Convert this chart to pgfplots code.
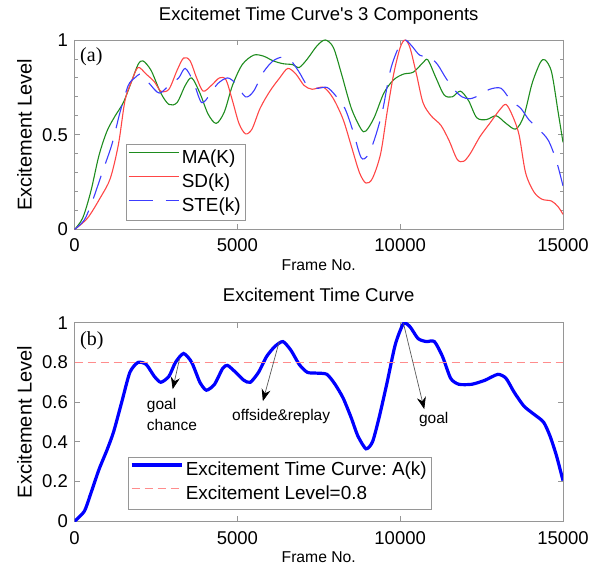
\documentclass[border=0pt]{standalone}
\usepackage{fontspec}
\setmainfont{Liberation Sans}
\newfontfamily\serifa{Liberation Serif}
\usepackage{pgfplots}
\pgfplotsset{compat=1.18}
\usetikzlibrary{arrows.meta}

\definecolor{maG}{RGB}{30,140,30}
\definecolor{sdR}{RGB}{255,70,70}
\definecolor{steB}{RGB}{60,60,255}
\definecolor{axgray}{RGB}{150,150,150}
\definecolor{lvlR}{RGB}{255,140,140}
\newcommand\fs[1]{\fontsize{#1}{#1}\selectfont}
\frenchspacing

\pgfplotsset{myax/.style={
  scale only axis, width=488.5pt, xmin=0, xmax=15000, ymin=0, ymax=1,
  axis line style={draw=axgray, line width=0.9pt},
  tick style={draw=axgray, line width=0.8pt},
  major tick length=5pt, minor tick length=3pt,
  xtick={0,5000,10000,15000},
  scaled x ticks=false, scaled y ticks=false,
  /pgf/number format/1000 sep={},
  /pgf/number format/assume math mode=true,
  tick label style={font=\fs{18.5}},
  xticklabel style={anchor=north, inner sep=0pt, yshift=-9pt},
  yticklabel style={anchor=east, inner sep=0pt, xshift=-6.5pt},
  xlabel={Frame No.},
  xlabel style={font=\fs{15.7}, at={(axis description cs:0.5,0)}, anchor=north, inner sep=0pt, yshift=-30.5pt},
  ylabel={Excitement Level},
  ylabel style={font=\fs{20}, at={(axis description cs:-0.087,0.5)}, anchor=south, inner sep=0pt},
  title style={font=\fs{18.5}, at={(axis description cs:0.5,1)}, anchor=base, inner sep=0pt},
  legend cell align=left,
  legend style={draw=axgray, line width=0.8pt, font=\fs{18.9}, anchor=south west,
     inner sep=2pt, row sep=0pt, nodes={text height=14.5pt, text depth=4.5pt, inner sep=2.5pt}},
  legend image code/.code={\draw[#1] (0pt,6pt) -- (50pt,6pt);},
}}

\begin{document}
\begin{tikzpicture}
\begin{axis}[myax, at={(74.5pt,335.5pt)}, anchor=south west, height=189.5pt,
  ytick={0,0.5,1}, minor y tick num=4,
  title={Excitemet Time Curve\textquotesingle s 3 Components}, title style={yshift=13pt},
  legend style={at={(0.105,0.046)}}]
\addplot[maG, line width=1.1pt, smooth, tension=0.5] table {
0 0
250 0.06
500 0.2
750 0.39
1000 0.52
1250 0.6
1500 0.67
1750 0.78
1950 0.87
2100 0.89
2350 0.84
2650 0.72
2900 0.66
3150 0.67
3400 0.76
3600 0.80
3850 0.72
4100 0.61
4350 0.56
4600 0.62
4850 0.76
5150 0.87
5500 0.92
5800 0.915
6100 0.89
6400 0.875
6700 0.87
6900 0.855
7150 0.90
7450 0.97
7700 1.0
7950 0.96
8200 0.82
8500 0.64
8800 0.53
8950 0.52
9200 0.59
9500 0.72
9800 0.79
10100 0.82
10400 0.83
10700 0.88
10850 0.895
11100 0.80
11350 0.71
11600 0.70
11850 0.73
12100 0.68
12350 0.59
12650 0.58
12950 0.60
13250 0.56
13550 0.53
13800 0.60
14050 0.77
14300 0.88
14450 0.895
14650 0.83
14850 0.62
15000 0.46
};
\addlegendentry{MA(K)}
\addplot[sdR, line width=1.1pt, smooth, tension=0.5] table {
0 0
400 0.06
800 0.17
1100 0.27
1350 0.45
1550 0.68
1750 0.78
1950 0.855
2200 0.82
2450 0.78
2650 0.73
2900 0.74
3150 0.84
3350 0.905
3550 0.89
3750 0.80
3950 0.73
4200 0.76
4450 0.80
4650 0.79
4850 0.68
5050 0.56
5250 0.505
5450 0.53
5700 0.64
6000 0.73
6300 0.80
6550 0.85
6800 0.82
7050 0.76
7300 0.74
7650 0.75
7950 0.69
8250 0.58
8500 0.44
8750 0.30
8950 0.245
9150 0.27
9400 0.40
9600 0.62
9800 0.82
10000 0.96
10150 1.0
10300 0.96
10500 0.82
10700 0.67
10950 0.60
11250 0.55
11500 0.47
11750 0.37
11950 0.36
12150 0.40
12450 0.49
12750 0.56
13050 0.63
13250 0.66
13450 0.60
13650 0.50
13850 0.30
14100 0.20
14350 0.16
14650 0.15
14850 0.12
15000 0.08
};
\addlegendentry{SD(k)}
\addplot[steB, line width=1.1pt, dash pattern=on 24pt off 13pt, smooth, tension=0.5] table {
0 0
300 0.05
550 0.15
850 0.30
1150 0.45
1400 0.62
1650 0.76
1850 0.80
2050 0.82
2300 0.77
2600 0.72
2900 0.76
3200 0.80
3400 0.85
3650 0.78
3900 0.67
4150 0.71
4400 0.77
4700 0.80
4950 0.77
5250 0.70
5500 0.73
5800 0.83
6100 0.89
6400 0.91
6650 0.89
6900 0.83
7150 0.76
7450 0.745
7750 0.75
8000 0.71
8300 0.64
8550 0.52
8800 0.38
9000 0.39
9200 0.47
9450 0.62
9700 0.84
9950 0.96
10150 1.0
10350 0.97
10600 0.92
10900 0.91
11150 0.87
11400 0.80
11650 0.74
11900 0.70
12150 0.69
12450 0.71
12750 0.74
13100 0.745
13400 0.68
13700 0.64
13950 0.58
14250 0.53
14550 0.47
14800 0.36
15000 0.23
};
\addlegendentry{STE(k)}
\node[anchor=north west, inner sep=0pt, font=\serifa\fs{20}] at (axis description cs:0.0113,0.96) {(a)};
\end{axis}

\begin{axis}[myax, at={(74.5pt,43.7pt)}, anchor=south west, height=198.6pt,
  ytick={0,0.2,0.4,0.6,0.8,1},
  xticklabel style={yshift=-1pt},
  title={Excitement Time Curve}, title style={yshift=14.7pt},
  legend style={at={(0.109,0.06)}}]
\addplot[blue, line width=3.2pt, smooth, tension=0.4] table {
0 0
300 0.05
500 0.14
750 0.26
1000 0.36
1200 0.45
1450 0.60
1700 0.75
1950 0.80
2200 0.79
2450 0.73
2650 0.70
2900 0.73
3100 0.80
3350 0.845
3600 0.80
3850 0.70
4050 0.66
4300 0.69
4550 0.77
4700 0.785
4950 0.75
5200 0.71
5400 0.70
5650 0.75
5900 0.83
6150 0.88
6400 0.905
6650 0.86
6900 0.79
7150 0.75
7450 0.746
7750 0.74
8000 0.69
8250 0.62
8500 0.52
8700 0.43
8950 0.365
9150 0.40
9350 0.52
9600 0.70
9850 0.89
10100 0.995
10300 0.98
10550 0.92
10800 0.905
11050 0.905
11300 0.83
11550 0.72
11800 0.69
12200 0.69
12600 0.71
13000 0.74
13250 0.72
13500 0.65
13800 0.58
14100 0.54
14400 0.50
14600 0.43
14800 0.33
15000 0.205
};
\addlegendentry{Excitement Time Curve:\ A(k)}
\addplot[lvlR, line width=1pt, dash pattern=on 8pt off 5pt] coordinates {(0,0.8) (15000,0.8)};
\addlegendentry{Excitement Level=0.8}
\node[anchor=north west, inner sep=0pt, font=\serifa\fs{20}] at (axis description cs:0.0113,0.955) {(b)};
\draw[draw=gray!70!black, line width=0.7pt, -{Stealth[length=12pt,width=9pt,color=black]}] (axis cs:3228,0.82) -- (axis cs:3015,0.665);
\draw[draw=gray!70!black, line width=0.7pt, -{Stealth[length=12pt,width=9pt,color=black]}] (axis cs:6287,0.905) -- (axis cs:5784,0.605);
\draw[draw=gray!70!black, line width=0.7pt, -{Stealth[length=12pt,width=9pt,color=black]}] (axis cs:10101,0.997) -- (axis cs:10739,0.565);
\node[anchor=base west, inner sep=0pt, font=\fs{15.5}] at (axis cs:2217,0.565) {goal};
\node[anchor=base west, inner sep=0pt, font=\fs{15.5}] at (axis cs:2217,0.456) {chance};
\node[anchor=base, inner sep=0pt, font=\fs{15.5}] at (axis cs:6345,0.507) {offside\&replay};
\node[anchor=base, inner sep=0pt, font=\fs{15.5}] at (axis cs:11032,0.49) {goal};
\end{axis}
\pgfresetboundingbox
\path (0pt,0pt) rectangle (605pt,565pt);
\end{tikzpicture}
\end{document}
